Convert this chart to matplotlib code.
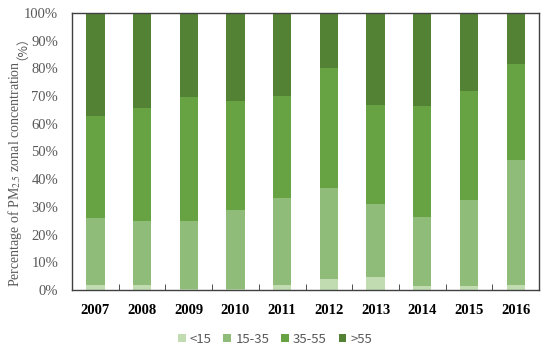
import matplotlib
matplotlib.use("Agg")
import matplotlib.pyplot as plt
import numpy as np
from matplotlib.ticker import FixedLocator, PercentFormatter

years = ["2007", "2008", "2009", "2010", "2011", "2012", "2013", "2014", "2015", "2016"]
series_names = ["<15", "15-35", "35-55", ">55"]
# cumulative tops (%)
lt15 = [1.8, 1.8, 0.5, 0.5, 1.8, 4.1, 4.7, 1.4, 1.4, 1.8]
cum_15_35 = [26.1, 24.9, 25.0, 28.9, 33.2, 36.7, 31.2, 26.5, 32.4, 47.0]
cum_35_55 = [62.9, 65.8, 69.7, 68.2, 70.0, 80.0, 66.8, 66.5, 71.7, 81.6]

s1 = np.array(lt15)
s2 = np.array(cum_15_35) - s1
s3 = np.array(cum_35_55) - np.array(cum_15_35)
s4 = 100 - np.array(cum_35_55)
values = [s1, s2, s3, s4]
colors = ["#c2dcb2", "#8fbc78", "#67a343", "#548235"]

plt.rcParams["mathtext.fontset"] = "stix"
fig = plt.figure(figsize=(5.5, 3.48), dpi=100)
ax = fig.add_axes([0.131, 0.1667, 0.849, 0.796])

x = np.arange(len(years))
bottom = np.zeros(len(years))
handles = []
for name, v, c in zip(series_names, values, colors):
    b = ax.bar(x, v, 0.39, bottom=bottom, color=c, label=name, linewidth=0)
    handles.append(b)
    bottom += v

ax.set_xlim(-0.5, len(years) - 0.5)
ax.set_ylim(0, 100)
ax.yaxis.set_major_locator(FixedLocator(np.arange(0, 101, 10)))
ax.yaxis.set_major_formatter(PercentFormatter(decimals=0))
ax.set_xticks(x)
ax.set_xticklabels(years, fontfamily="Liberation Serif", fontweight="bold", fontsize=10.5, color="black")
ax.xaxis.set_minor_locator(FixedLocator(np.arange(0.5, len(years) - 1, 1)))
ax.tick_params(axis="x", which="major", length=0, pad=10)
ax.tick_params(axis="x", which="minor", direction="in", length=4, color="#333333")
ax.tick_params(axis="y", length=0, pad=10, labelcolor="#595959", labelsize=10.5)
for lbl in ax.get_yticklabels():
    lbl.set_fontfamily("Liberation Serif")
for sp in ax.spines.values():
    sp.set_color("#404040")
    sp.set_linewidth(1.0)

# y label: main part with mathtext subscript, full-width brackets appended as separate text
ylab_main = "Percentage of PM$_{2.5}$ zonal concentration"
ylab_unit = "（%）"
W, H = fig.bbox.width, fig.bbox.height
base_x = 19.5 / W
lab = fig.text(base_x, 0.5, ylab_main, rotation=90, rotation_mode="anchor",
               ha="left", va="baseline", fontsize=10, color="#595959", family="Liberation Serif")
unit = fig.text(base_x, 0.5, ylab_unit, rotation=90, rotation_mode="anchor",
                ha="left", va="baseline", fontsize=9, color="#595959",
                family=["Noto Sans CJK SC", "DejaVu Sans"])
fig.canvas.draw()
bb = lab.get_window_extent()
ub = unit.get_window_extent()
center_px = H - 155.0
full = bb.height + ub.height
y0 = center_px - full / 2
lab.set_y(y0 / H)
unit.set_y((y0 + bb.height) / H)

leg = fig.legend(handles=handles, labels=series_names, loc="center", bbox_to_anchor=(0.5, 0.025),
                 ncol=4, frameon=False, handlelength=0.6, handleheight=0.6, handletextpad=0.3,
                 columnspacing=0.9, prop={"family": ["Noto Sans CJK SC", "DejaVu Sans"], "size": 9.5})
for t in leg.get_texts():
    t.set_color("#595959")

fig.savefig("out.png", dpi=100)
